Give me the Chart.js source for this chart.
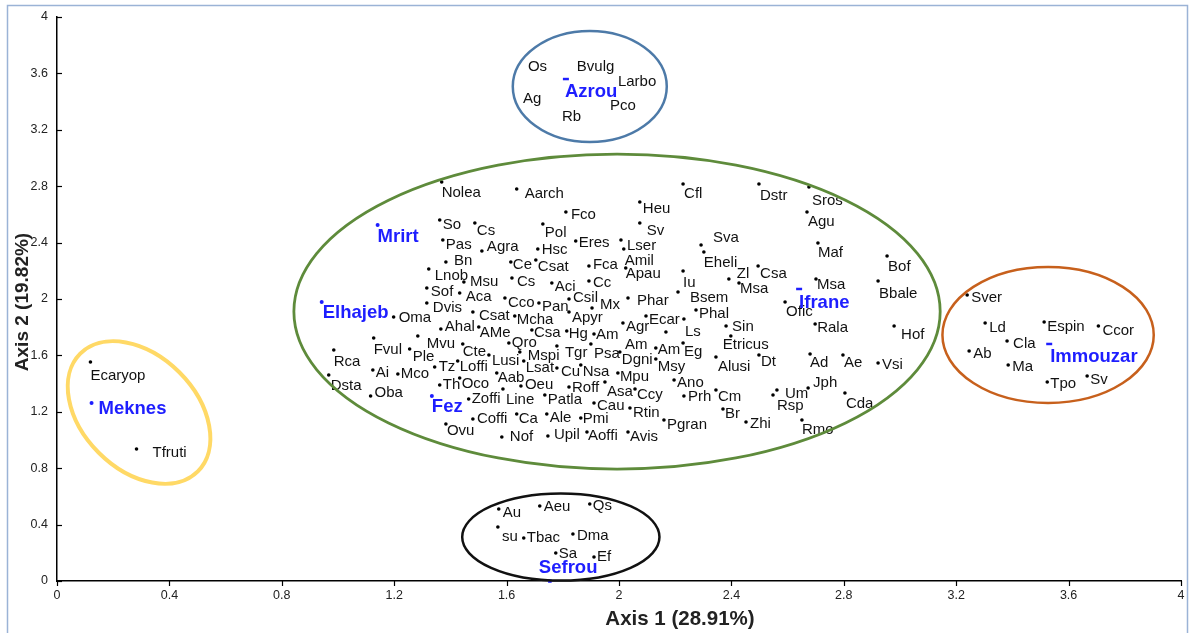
<!DOCTYPE html>
<html>
<head>
<meta charset="utf-8">
<title>Axis 1 / Axis 2</title>
<script src="https://cdn.jsdelivr.net/npm/chart.js@4/dist/chart.umd.min.js"></script>
<style>
  html, body { margin: 0; padding: 0; background: #fff; }
  #wrap { position: relative; width: 1192px; height: 633px; }
</style>
</head>
<body>
<div id="wrap"><canvas id="plot"></canvas></div>
<script>
// ---- tick marks shared by both axes ----
const axisTickValues = [0, 0.4, 0.8, 1.2, 1.6, 2, 2.4, 2.8, 3.2, 3.6, 4];
const axisTickLabels = ['0', '0.4', '0.8', '1.2', '1.6', '2', '2.4', '2.8', '3.2', '3.6', '4'];

// ---- sites (blue) ----
const siteNames = ['Azrou', 'Mrirt', 'Elhajeb', 'Fez', 'Meknes', 'Ifrane', 'Immouzar', 'Sefrou'];
const siteAxis1 = [1.811, 1.141, 0.942, 1.334, 0.123, 2.641, 3.531, 1.754];
const siteAxis2 = [3.560, 2.525, 1.979, 1.312, 1.262, 2.071, 1.681, 0.000];

// ---- species of the central group ----
const mainSpecies = ['Nolea','Aarch','So','Cs','Pol','Fco','Heu','Cfl','Dstr','Sros','Agu','Sv','Pas','Agra','Hsc','Eres','Lser','Amil','Sva','Eheli',
  'Bn','Ce','Csat','Fca','Apau','Iu','Zl','Csa','Msa','Maf','Bof','Bbale','Msa','Ofic','Lnob','Msu','Cs','Aci','Cc','Sof',
  'Aca','Cco','Pan','Csil','Mx','Phar','Bsem','Dvis','Oma','Csat','Mcha','Apyr','Ecar','Phal','Agr','Ls','Sin','Rala','Hof','Ahal',
  'AMe','Csa','Hg','Am','Am','Fvul','Mvu','Qro','Cte','Rca','Ple','Mspi','Tgr','Psa','Am','Eg','Dgni','Msy','Etricus','Alusi',
  'Dt','Ad','Ae','Vsi','Lusi','Loffi','Tz','Lsat','Cu','Nsa','Mpu','Ai','Mco','Dsta','Aab','Th','Oco','Oeu','Roff','Asa',
  'Ano','Jph','Um','Rsp','Ccy','Prh','Cm','Cda','Oba','Zoffi','Line','Patla','Cau','Rtin','Br','Coffi','Ca','Ale','Pmi','Pgran',
  'Zhi','Rmo','Ovu','Nof','Upil','Aoffi','Avis'];
const mainAxis1 = [1.369,1.636,1.362,1.487,1.729,1.811,2.074,2.228,2.498,2.676,2.669,2.074,1.373,1.512,1.711,1.846,2.007,2.017,2.292,2.302,
  1.384,1.615,1.704,1.893,2.024,2.228,2.391,2.495,2.427,2.708,2.954,2.922,2.701,2.591,1.323,1.448,1.619,1.761,1.893,1.316,
  1.433,1.594,1.715,1.822,1.904,2.032,2.210,1.316,1.198,1.480,1.629,1.822,2.096,2.274,2.014,2.231,2.381,2.698,2.979,1.366,
  1.501,1.690,1.814,1.911,2.167,1.127,1.284,1.608,1.444,0.985,1.255,1.647,1.779,1.900,2.131,2.228,2.003,2.131,2.398,2.345,
  2.498,2.680,2.797,2.922,1.537,1.426,1.344,1.661,1.779,1.864,1.996,1.124,1.213,0.967,1.565,1.362,1.433,1.651,1.822,1.950,
  2.196,2.673,2.562,2.548,2.057,2.231,2.345,2.804,1.116,1.465,1.587,1.736,1.911,2.039,2.370,1.480,1.636,1.743,1.864,2.160,
  2.452,2.651,1.384,1.583,1.747,1.886,2.032];
const mainAxis2 = [2.830,2.780,2.560,2.539,2.532,2.617,2.688,2.816,2.816,2.794,2.617,2.539,2.418,2.340,2.355,2.411,2.418,2.355,2.383,2.333,
  2.262,2.262,2.277,2.234,2.220,2.199,2.142,2.234,2.113,2.397,2.305,2.128,2.142,1.979,2.213,2.121,2.149,2.113,2.128,2.078,
  2.043,2.007,1.972,2.000,1.936,2.007,2.050,1.972,1.872,1.908,1.879,1.908,1.879,1.922,1.830,1.858,1.809,1.823,1.809,1.787,
  1.801,1.780,1.773,1.752,1.766,1.723,1.738,1.688,1.681,1.638,1.645,1.624,1.667,1.681,1.652,1.688,1.624,1.574,1.738,1.589,
  1.603,1.610,1.603,1.546,1.603,1.560,1.518,1.560,1.511,1.532,1.475,1.496,1.468,1.461,1.475,1.390,1.440,1.383,1.376,1.411,
  1.426,1.369,1.355,1.319,1.362,1.312,1.355,1.333,1.312,1.291,1.362,1.319,1.262,1.227,1.220,1.149,1.184,1.184,1.156,1.142,
  1.128,1.142,1.113,1.021,1.028,1.057,1.057];

// ---- Azrou group (names only) ----
const azrouSpecies = ['Os', 'Bvulg', 'Larbo', 'Ag', 'Pco', 'Rb'];
const azrouAxis1 = [1.676, 1.850, 1.996, 1.658, 1.968, 1.797];
const azrouAxis2 = [3.645, 3.645, 3.539, 3.418, 3.369, 3.291];

// ---- Immouzar group ----
const immouzarSpecies = ['Sver', 'Ld', 'Espin', 'Ccor', 'Cla', 'Ab', 'Ma', 'Tpo', 'Sv'];
const immouzarAxis1 = [3.239, 3.303, 3.513, 3.706, 3.381, 3.246, 3.385, 3.524, 3.666];
const immouzarAxis2 = [2.028, 1.830, 1.837, 1.809, 1.702, 1.631, 1.532, 1.411, 1.454];

// ---- Meknes group ----
const meknesSpecies = ['Ecaryop', 'Tfruti'];
const meknesAxis1 = [0.119, 0.283];
const meknesAxis2 = [1.553, 0.936];

// ---- Sefrou group ----
const sefrouSpecies = ['Au', 'Aeu', 'Qs', 'su', 'Tbac', 'Dma', 'Sa', 'Ef'];
const sefrouAxis1 = [1.572, 1.718, 1.896, 1.569, 1.661, 1.836, 1.775, 1.911];
const sefrouAxis2 = [0.511, 0.532, 0.546, 0.383, 0.305, 0.333, 0.199, 0.170];

// ---- label placement next to each marker (pixels: right, down) ----
const mainNudge = [[0,11],[8,5],[3,5],[2,8],[2,9],[5,3],[3,7],[1,10],[1,12],[3,14],[1,10],[7,8],[3,5],[5,-4],[4,1],[3,2],[6,6],[1,12],[12,-7],[0,11],
  [8,-1],[2,3],[2,7],[4,-1],[0,6],[0,12],[8,-5],[2,8],[1,6],[0,10],[1,11],[1,13],[1,6],[1,10],[6,7],[6,0],[5,4],[3,4],[4,2],[4,4],
  [6,4],[3,5],[3,4],[4,-1],[8,-3],[9,3],[12,6],[6,5],[5,1],[6,4],[2,4],[3,6],[3,4],[3,4],[3,4],[1,13],[6,1],[2,4],[7,9],[4,-2],
  [1,6],[2,3],[2,3],[2,1],[-41,13],[0,12],[9,8],[3,0],[0,8],[0,12],[3,8],[8,4],[8,7],[3,10],[2,2],[1,9],[2,8],[2,8],[-8,9],[2,10],
  [2,7],[0,9],[1,8],[4,2],[3,6],[2,6],[4,0],[2,7],[4,4],[2,7],[2,4],[3,3],[3,0],[2,11],[1,5],[3,0],[2,6],[4,-1],[3,1],[2,10],
  [3,3],[5,-5],[8,4],[4,11],[2,6],[4,1],[2,7],[1,11],[4,-3],[3,0],[3,11],[3,5],[3,3],[3,5],[2,5],[4,0],[2,5],[3,4],[2,1],[3,5],
  [4,2],[0,10],[1,7],[8,0],[6,-1],[1,4],[2,5]];
const immouzarNudge = [[4,3],[4,5],[3,5],[4,5],[6,3],[4,3],[4,2],[3,2],[3,4]];
const meknesNudge = [[0,14],[16,4]];
const sefrouNudge = [[4,4],[4,1],[3,2],[4,10],[3,0],[4,2],[3,1],[3,0]];
const siteNudge = [[-1,13],[0,12],[1,11],[0,11],[7,6],[0,14],[1,13],[-11,-13]];

// ---- rings around the groups (centre and half-axes in axis units) ----
const groupRings = [
  { cx: 1.896, cy: 3.507, rx: 0.274, ry: 0.394, tilt: 0,  color: '#4d7aa8', width: 2.5 },
  { cx: 1.993, cy: 1.911, rx: 1.150, ry: 1.117, tilt: 0,  color: '#5e8b3b', width: 2.8 },
  { cx: 3.527, cy: 1.745, rx: 0.376, ry: 0.482, tilt: 0,  color: '#c7601c', width: 2.5 },
  { cx: 1.793, cy: 0.312, rx: 0.351, ry: 0.309, tilt: 0,  color: '#111111', width: 2.5 },
  { cx: 0.292, cy: 1.195, rx: 0.296, ry: 0.404, tilt: 45, color: '#ffd966', width: 4 }
];

const toPoints = (xs, ys) => xs.map((v, i) => ({ x: v, y: ys[i] }));
const speciesFont = '15px "Liberation Sans", Arial, sans-serif';
const siteFont = 'bold 18.5px "Liberation Sans", Arial, sans-serif';
const siteBlue = '#1e1eff';

function speciesSet(names, xs, ys, nudge, radius) {
  return {
    data: toPoints(xs, ys),
    pointRadius: radius,
    pointHoverRadius: radius,
    pointBackgroundColor: '#000',
    pointBorderWidth: 0,
    showLine: false,
    clip: false,
    markNames: names,
    markNudge: nudge,
    markFont: speciesFont,
    markColor: '#111'
  };
}

const datasets = [
  speciesSet(mainSpecies, mainAxis1, mainAxis2, mainNudge, 1.8),
  speciesSet(azrouSpecies, azrouAxis1, azrouAxis2, azrouSpecies.map(() => [0, 0]), 0),
  speciesSet(immouzarSpecies, immouzarAxis1, immouzarAxis2, immouzarNudge, 1.8),
  speciesSet(meknesSpecies, meknesAxis1, meknesAxis2, meknesNudge, 1.8),
  speciesSet(sefrouSpecies, sefrouAxis1, sefrouAxis2, sefrouNudge, 1.8),
  {
    data: toPoints(siteAxis1, siteAxis2),
    pointStyle: ['line', 'circle', 'circle', 'circle', 'circle', 'line', 'line', 'rect'],
    pointRadius: [3, 2, 2, 2, 2, 3, 3, 2.5],
    pointBackgroundColor: siteBlue,
    pointBorderColor: siteBlue,
    pointBorderWidth: [2.5, 0, 0, 0, 0, 2.5, 2.5, 0],
    showLine: false,
    clip: false,
    markNames: siteNames,
    markNudge: siteNudge,
    markFont: siteFont,
    markColor: siteBlue
  }
];

// white page with a thin blue frame
const framePlugin = {
  id: 'frame',
  beforeDraw(chart) {
    const { ctx, width, height } = chart;
    ctx.save();
    ctx.fillStyle = '#fff';
    ctx.fillRect(0, 0, width, height);
    ctx.strokeStyle = '#9bb3d6';
    ctx.lineWidth = 1.5;
    ctx.strokeRect(7.5, 5.5, width - 12, height + 10);
    ctx.restore();
  }
};

// names written beside their markers
const namePlugin = {
  id: 'markNames',
  afterDatasetsDraw(chart) {
    const { ctx } = chart;
    ctx.save();
    ctx.textAlign = 'left';
    ctx.textBaseline = 'middle';
    chart.data.datasets.forEach((ds, di) => {
      if (!ds.markNames) return;
      const meta = chart.getDatasetMeta(di);
      ctx.font = ds.markFont;
      ctx.fillStyle = ds.markColor;
      meta.data.forEach((pt, i) => {
        const [dx, dy] = ds.markNudge[i];
        ctx.fillText(ds.markNames[i], pt.x + dx, pt.y + dy);
      });
    });
    ctx.restore();
  }
};

// group rings, tick marks and axis titles
const overlayPlugin = {
  id: 'overlay',
  afterDraw(chart) {
    const { ctx, scales: { x, y }, chartArea: area } = chart;
    const ux = x.getPixelForValue(1) - x.getPixelForValue(0);
    const uy = y.getPixelForValue(0) - y.getPixelForValue(1);
    ctx.save();
    groupRings.forEach(r => {
      ctx.beginPath();
      ctx.ellipse(x.getPixelForValue(r.cx), y.getPixelForValue(r.cy), r.rx * ux, r.ry * uy,
                  r.tilt * Math.PI / 180, 0, Math.PI * 2);
      ctx.strokeStyle = r.color;
      ctx.lineWidth = r.width;
      ctx.stroke();
    });
    // tick marks: x outward, y inward
    ctx.strokeStyle = '#000';
    ctx.lineWidth = 1.2;
    axisTickValues.forEach(v => {
      const xp = Math.round(x.getPixelForValue(v)) + 0.5;
      ctx.beginPath(); ctx.moveTo(xp, area.bottom); ctx.lineTo(xp, area.bottom + 5); ctx.stroke();
      const yp = Math.round(y.getPixelForValue(v)) + 0.5;
      ctx.beginPath(); ctx.moveTo(area.left, yp); ctx.lineTo(area.left + 5, yp); ctx.stroke();
    });
    // axis titles
    ctx.fillStyle = '#222';
    ctx.textAlign = 'center';
    ctx.textBaseline = 'middle';
    ctx.font = 'bold 20.5px "Liberation Sans", Arial, sans-serif';
    ctx.fillText('Axis 1 (28.91%)', 680, 619);
    ctx.font = 'bold 19px "Liberation Sans", Arial, sans-serif';
    ctx.translate(23, (area.top + area.bottom) / 2 + 3);
    ctx.rotate(-Math.PI / 2);
    ctx.fillText('Axis 2 (19.82%)', 0, 0);
    ctx.restore();
  }
};

const tickFont = { family: '"Liberation Sans", Arial, sans-serif', size: 12.5 };

new Chart(document.getElementById('plot'), {
  type: 'scatter',
  data: { datasets },
  options: {
    responsive: true,
    maintainAspectRatio: false,
    animation: false,
    events: [],
    layout: { padding: { top: 17, right: 11, left: 0, bottom: 0 } },
    plugins: { legend: { display: false }, tooltip: { enabled: false } },
    scales: {
      x: {
        type: 'linear', min: 0, max: 4,
        afterBuildTicks: s => { s.ticks = axisTickValues.map(v => ({ value: v })); },
        afterFit: s => { s.height = 52; },
        grid: { display: false, drawTicks: false },
        border: { display: true, color: '#000', width: 1.5 },
        ticks: { padding: 7, color: '#222', font: tickFont, maxRotation: 0,
                 callback: (v, i) => axisTickLabels[i] }
      },
      y: {
        type: 'linear', min: 0, max: 4,
        afterBuildTicks: s => { s.ticks = axisTickValues.map(v => ({ value: v })); },
        afterFit: s => { s.width = 57; },
        grid: { display: false, drawTicks: false },
        border: { display: true, color: '#000', width: 1.5 },
        ticks: { padding: 9, color: '#222', font: tickFont,
                 callback: (v, i) => axisTickLabels[i] }
      }
    }
  },
  plugins: [framePlugin, namePlugin, overlayPlugin]
});
</script>
</body>
</html>
